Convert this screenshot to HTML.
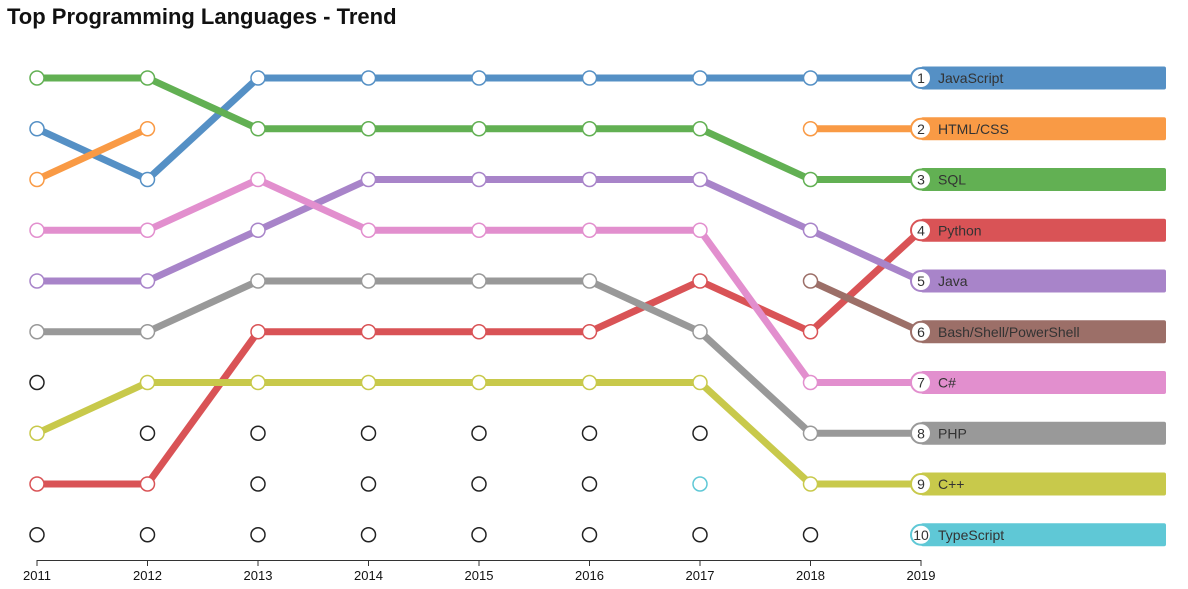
<!DOCTYPE html>
<html><head><meta charset="utf-8"><style>
body{margin:0;background:#fff;font-family:"Liberation Sans",sans-serif}
h1{position:absolute;left:7px;top:4px;margin:0;font-size:22px;font-weight:bold;color:#111}
</style></head><body>
<h1>Top Programming Languages - Trend</h1>
<svg id="c" width="1188" height="589" style="position:absolute;left:0;top:0"></svg>
<script>
const years=[2011,2012,2013,2014,2015,2016,2017,2018,2019];
const names=["JavaScript","HTML/CSS","SQL","Python","Java","Bash/Shell/PowerShell","C#","PHP","C++","TypeScript"];
const colors=["#5590c5","#f99a45","#62b053","#d95356","#a884c9","#9c6f68","#e28fce","#999999","#c8c94b","#5fc8d6"];
const rankJavaScript=[2,3,1,1,1,1,1,1,1];
const rankHTML=[3,2,null,null,null,null,null,2,2];
const rankSQL=[1,1,2,2,2,2,2,3,3];
const rankPython=[9,9,6,6,6,6,5,6,4];
const rankJava=[5,5,4,3,3,3,3,4,5];
const rankBash=[null,null,null,null,null,null,null,5,6];
const rankCSharp=[4,4,3,4,4,4,4,7,7];
const rankPHP=[6,6,5,5,5,5,6,8,8];
const rankCpp=[8,7,7,7,7,7,7,9,9];
const rankTypeScript=[null,null,null,null,null,null,9,null,10];
const series=[rankJavaScript,rankHTML,rankSQL,rankPython,rankJava,rankBash,rankCSharp,rankPHP,rankCpp,rankTypeScript];
const NS="http://www.w3.org/2000/svg";
const svg=document.getElementById('c');
const x=i=>37+i*110.5;
const y=r=>78+(r-1)*50.75;
function el(t,a,p){const e=document.createElementNS(NS,t);for(const k in a)e.setAttribute(k,a[k]);(p||svg).appendChild(e);return e;}
// legend bars
names.forEach((n,k)=>{
 const b=el('rect',{x:921,y:y(k+1)-11.5,width:245,height:23,rx:2,fill:colors[k]});
 
 
});
// lines
series.forEach((s,k)=>{
 for(let i=0;i<s.length-1;i++){
  if(s[i]!=null&&s[i+1]!=null){
   const l=el('line',{x1:x(i),y1:y(s[i]),x2:x(i+1),y2:y(s[i+1]),stroke:colors[k],'stroke-width':7});
   
   
  }
 }
});
// empty circles for unused ranks
years.forEach((yr,i)=>{
 if(i===8)return;
 for(let r=1;r<=10;r++){
  if(series.some(s=>s[i]===r))continue;
  const c=el('circle',{cx:x(i),cy:y(r),r:7,fill:'#fff',stroke:'#222','stroke-width':1.5});
  
  
 }
});
// points
series.forEach((s,k)=>{
 s.forEach((v,i)=>{
  if(v==null||i===8)return;
  const c=el('circle',{cx:x(i),cy:y(v),r:7,fill:'#fff',stroke:colors[k],'stroke-width':1.5});
  
  
 });
});
// legend circles and labels
names.forEach((n,k)=>{
 const c=el('circle',{cx:921,cy:y(k+1),r:10,fill:'#fff',stroke:colors[k],'stroke-width':2});
 
 
 const t=el('text',{x:921,y:y(k+1)+5,'text-anchor':'middle','font-size':14,fill:'#333'});
 t.textContent=k+1;
 
 
 const t2=el('text',{x:938,y:y(k+1)+5,'font-size':14,fill:'#333'});
 t2.textContent=n;
 
 
});
// axis
const ax=el('line',{x1:37,y1:560.5,x2:921,y2:560.5,stroke:'#333','stroke-width':1});


years.forEach((yr,i)=>{
 el('line',{x1:x(i),y1:560,x2:x(i),y2:566,stroke:'#333'});
 const t=el('text',{x:x(i),y:580,'text-anchor':'middle','font-size':13,fill:'#111'});
 t.textContent=yr;
 
 
});
</script>
</body></html>
